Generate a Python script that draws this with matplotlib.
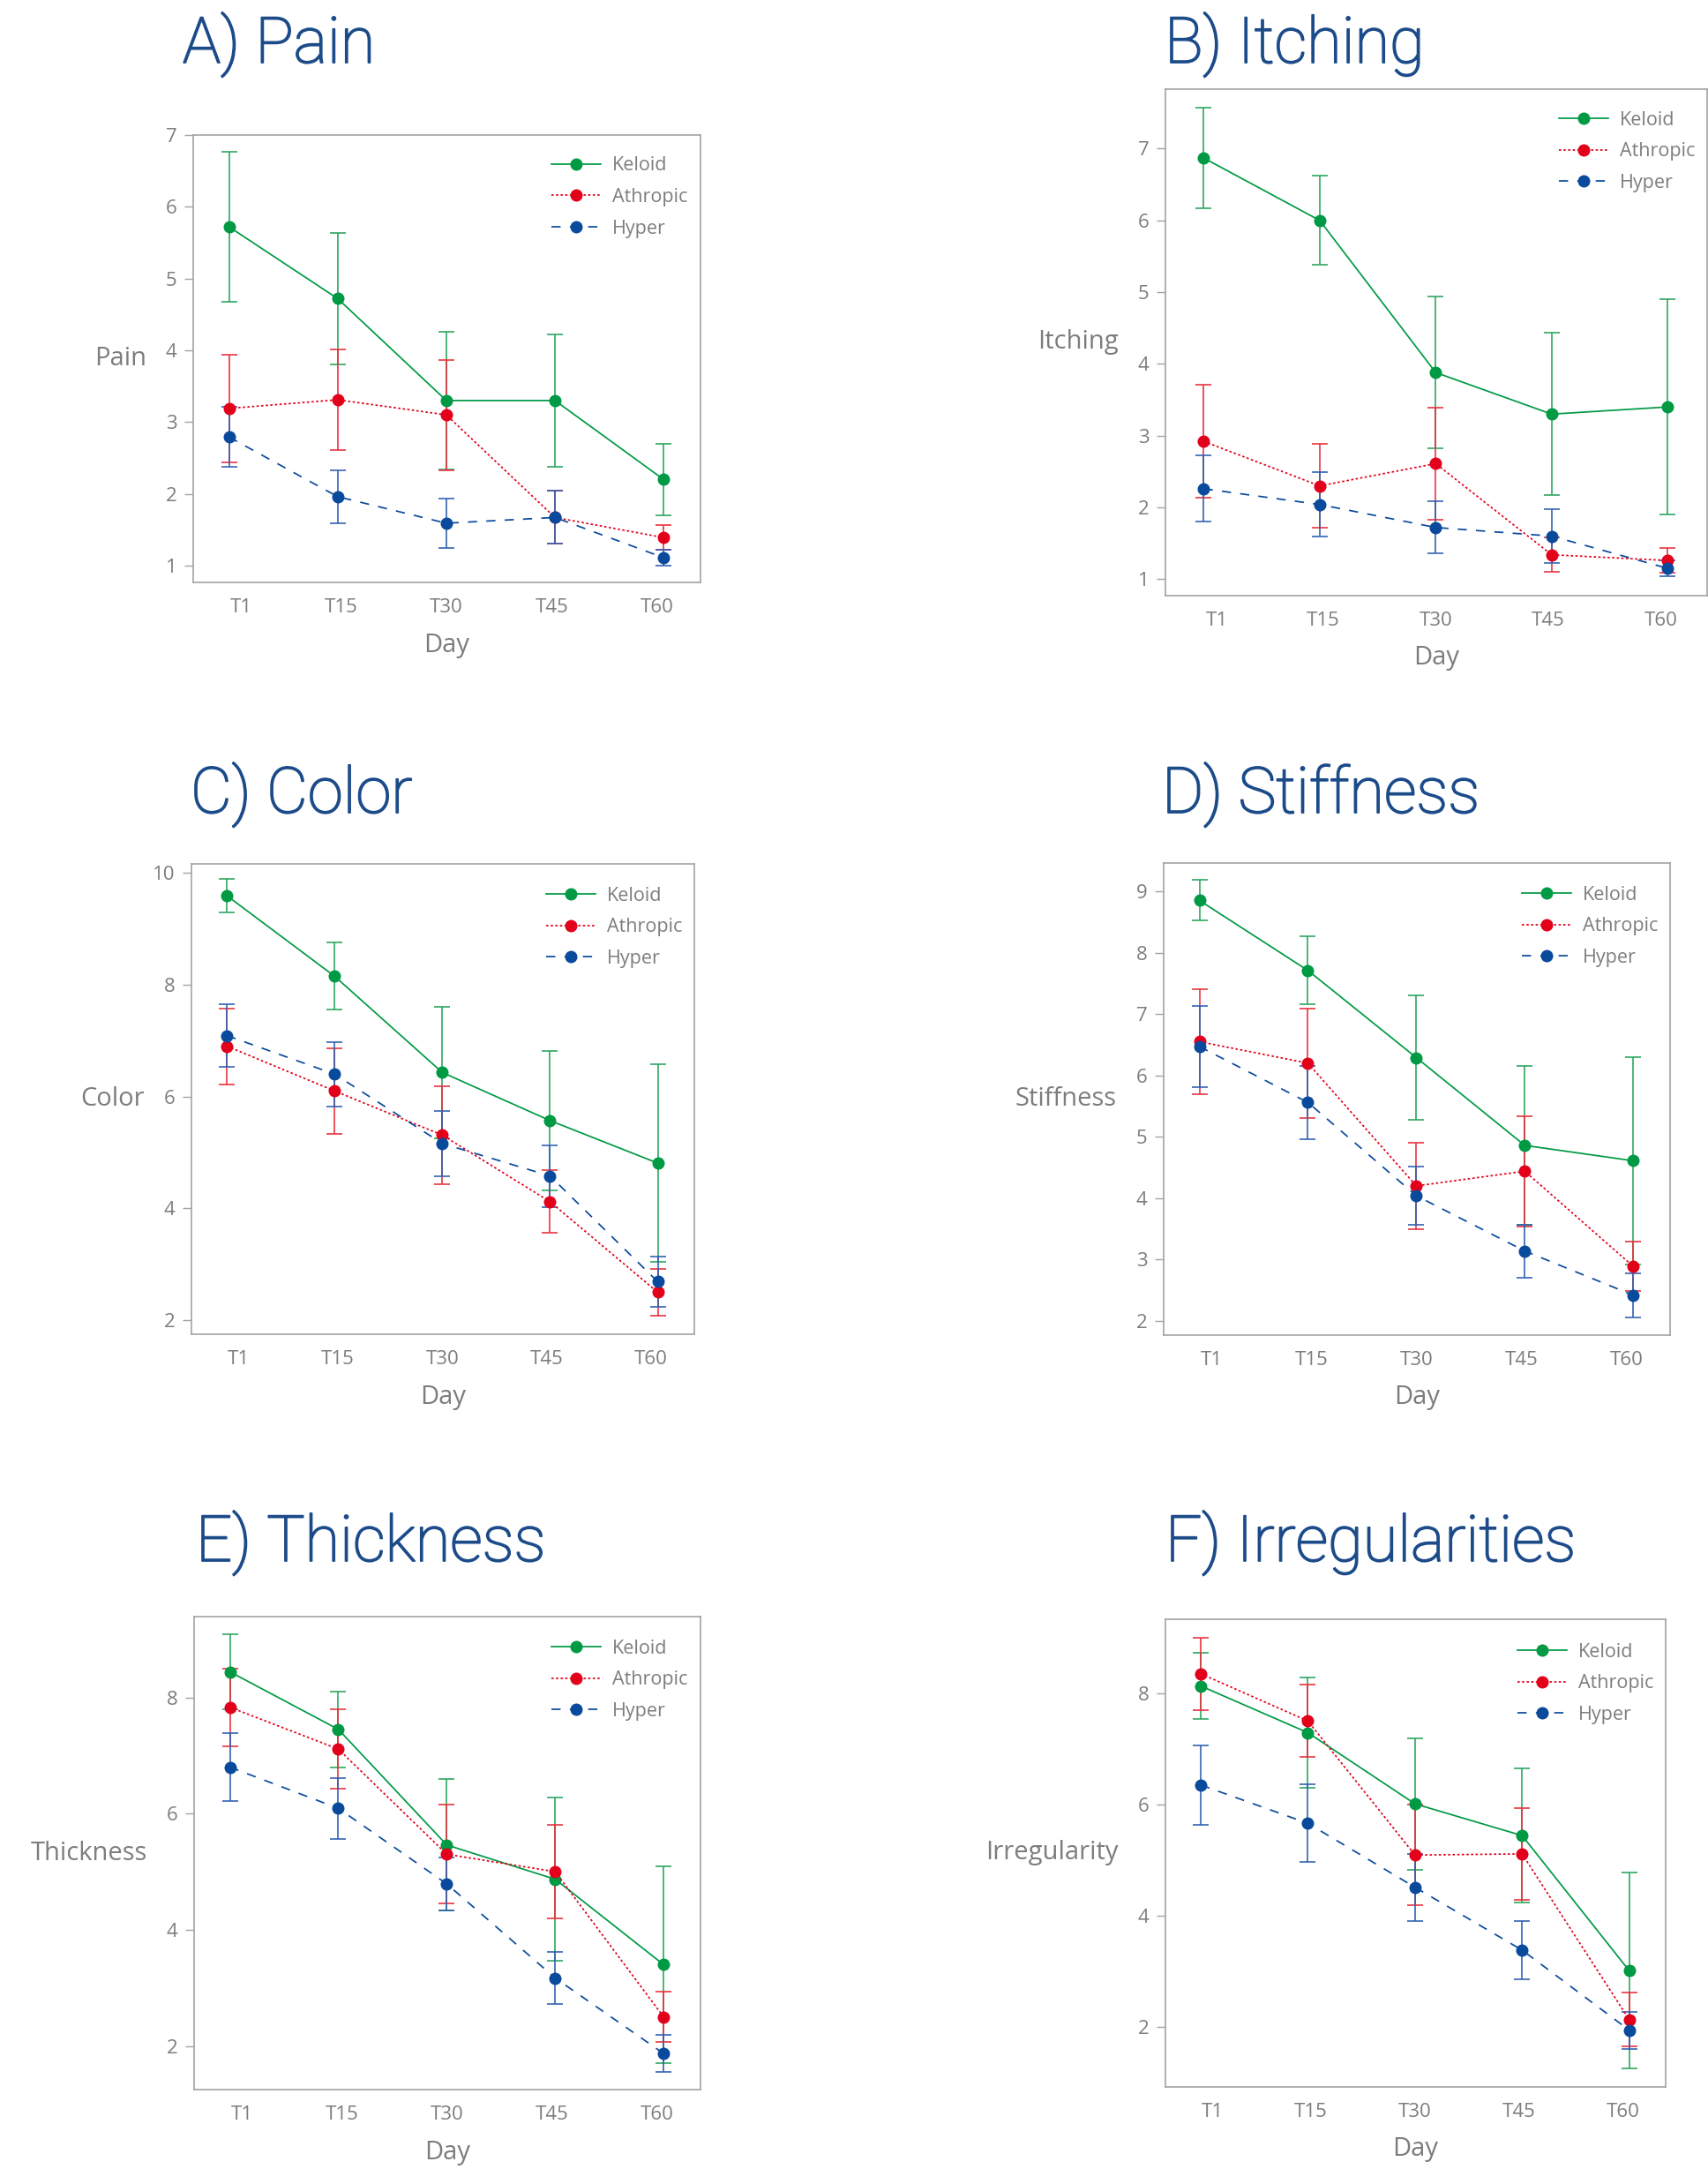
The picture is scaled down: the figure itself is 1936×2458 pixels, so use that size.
import matplotlib
matplotlib.use('Agg')
import matplotlib.pyplot as plt
import matplotlib.patheffects as pe

# ---------------- data ----------------
days = ['T1', 'T15', 'T30', 'T45', 'T60']
groups = ['Keloid', 'Athropic', 'Hyper']

pain_keloid = [5.72, 4.72, 3.30, 3.30, 2.20]
pain_keloid_sd = [1.05, 0.92, 0.96, 0.92, 0.50]
pain_athropic = [3.19, 3.31, 3.10, 1.67, 1.39]
pain_athropic_sd = [0.75, 0.70, 0.77, 0.37, 0.17]
pain_hyper = [2.79, 1.96, 1.59, 1.67, 1.11]
pain_hyper_sd = [0.42, 0.37, 0.34, 0.37, 0.11]

itching_keloid = [6.87, 6.00, 3.88, 3.30, 3.40]
itching_keloid_sd = [0.70, 0.62, 1.06, 1.13, 1.50]
itching_athropic = [2.92, 2.30, 2.61, 1.34, 1.26]
itching_athropic_sd = [0.79, 0.58, 0.78, 0.24, 0.17]
itching_hyper = [2.26, 2.04, 1.72, 1.60, 1.15]
itching_hyper_sd = [0.46, 0.45, 0.36, 0.37, 0.11]

color_keloid = [9.59, 8.15, 6.43, 5.57, 4.81]
color_keloid_sd = [0.30, 0.60, 1.18, 1.25, 1.77]
color_athropic = [6.90, 6.10, 5.31, 4.12, 2.50]
color_athropic_sd = [0.68, 0.77, 0.87, 0.56, 0.42]
color_hyper = [7.09, 6.40, 5.16, 4.58, 2.69]
color_hyper_sd = [0.56, 0.58, 0.58, 0.55, 0.45]

stiffness_keloid = [8.85, 7.71, 6.29, 4.86, 4.61]
stiffness_keloid_sd = [0.33, 0.55, 1.01, 1.30, 1.69]
stiffness_athropic = [6.55, 6.20, 4.20, 4.44, 2.89]
stiffness_athropic_sd = [0.86, 0.89, 0.71, 0.90, 0.40]
stiffness_hyper = [6.47, 5.56, 4.04, 3.14, 2.42]
stiffness_hyper_sd = [0.66, 0.60, 0.47, 0.43, 0.36]

thickness_keloid = [8.44, 7.45, 5.46, 4.87, 3.40]
thickness_keloid_sd = [0.64, 0.65, 1.13, 1.41, 1.69]
thickness_athropic = [7.83, 7.11, 5.30, 5.00, 2.50]
thickness_athropic_sd = [0.67, 0.68, 0.85, 0.81, 0.43]
thickness_hyper = [6.80, 6.09, 4.79, 3.17, 1.87]
thickness_hyper_sd = [0.58, 0.52, 0.46, 0.45, 0.32]

irreg_keloid = [8.13, 7.29, 6.01, 5.44, 3.01]
irreg_keloid_sd = [0.60, 0.99, 1.18, 1.21, 1.76]
irreg_athropic = [8.35, 7.50, 5.09, 5.11, 2.13]
irreg_athropic_sd = [0.65, 0.65, 0.90, 0.83, 0.48]
irreg_hyper = [6.35, 5.66, 4.51, 3.38, 1.94]
irreg_hyper_sd = [0.71, 0.70, 0.60, 0.53, 0.33]

titles = ['A) Pain', 'B) Itching', 'C) Color', 'D) Stiffness', 'E) Thickness', 'F) Irregularities']
ylabels = ['Pain', 'Itching', 'Color', 'Stiffness', 'Thickness', 'Irregularity']
yticks_list = [[1, 2, 3, 4, 5, 6, 7], [1, 2, 3, 4, 5, 6, 7], [2, 4, 6, 8, 10],
               [2, 3, 4, 5, 6, 7, 8, 9], [2, 4, 6, 8], [2, 4, 6, 8]]

# ---------------- style / layout ----------------
W, H, DPI = 1936, 2458, 100
TITLE_C = '#1c4b8a'
GRAY = '#7d7d7d'
SPINE = '#a3a3a3'
line_colors = ['#009a44', '#e3001b', '#0a4a9c']
err_colors = ['#2aa45e', '#e8303c', '#3060b0']
styles = ['-', (0, (1.5, 1.5)), (0, (6, 6))]
TITLE_FONT = ['Roboto', 'Liberation Sans', 'DejaVu Sans']
TEXT_FONT = ['Open Sans', 'DejaVu Sans']

# axes boxes in pixels: left, right, top, bottom
boxes = [(219, 794, 153, 660), (1321, 1935, 101, 675),
         (217, 787, 979, 1512), (1319, 1893, 978, 1513),
         (220, 794, 1832, 2368), (1321, 1888, 1835, 2365)]
title_pos = [(207, 71), (1320, 71), (216, 921), (1317, 921), (222, 1769), (1321, 1769)]
ylims = [(0.765, 7.0), (0.77, 7.83), (1.75, 10.16), (1.77, 9.46), (1.25, 9.39), (0.92, 9.33)]
legend_anchor = [(0.706, 0.952), (0.726, 0.957), (0.705, 0.952), (0.707, 0.952),
                 (0.706, 0.952), (0.704, 0.950)]
xlabel_pos = [0.11, 1.03, 2.0, 2.97, 3.94]

panel_data = [
    [(pain_keloid, pain_keloid_sd), (pain_athropic, pain_athropic_sd), (pain_hyper, pain_hyper_sd)],
    [(itching_keloid, itching_keloid_sd), (itching_athropic, itching_athropic_sd), (itching_hyper, itching_hyper_sd)],
    [(color_keloid, color_keloid_sd), (color_athropic, color_athropic_sd), (color_hyper, color_hyper_sd)],
    [(stiffness_keloid, stiffness_keloid_sd), (stiffness_athropic, stiffness_athropic_sd), (stiffness_hyper, stiffness_hyper_sd)],
    [(thickness_keloid, thickness_keloid_sd), (thickness_athropic, thickness_athropic_sd), (thickness_hyper, thickness_hyper_sd)],
    [(irreg_keloid, irreg_keloid_sd), (irreg_athropic, irreg_athropic_sd), (irreg_hyper, irreg_hyper_sd)],
]

fig = plt.figure(figsize=(W / DPI, H / DPI), dpi=DPI)
PX = 72.0 / DPI  # points per pixel

x = list(range(len(days)))

for i in range(6):
    l, r, t, b = boxes[i]
    ax = fig.add_axes([l / W, 1 - b / H, (r - l) / W, (b - t) / H])
    # error bars first
    for g in range(3):
        m, sd = panel_data[i][g]
        ax.errorbar(x, m, yerr=sd, fmt='none', ecolor=err_colors[g], elinewidth=1.3,
                    capsize=9 * PX, capthick=1.3, alpha=0.9, zorder=2)
    handles = []
    for g in range(3):
        m, sd = panel_data[i][g]
        ln, = ax.plot(x, m, linestyle=styles[g], color=line_colors[g], lw=1.25,
                      marker='o', markersize=14 * PX, markeredgewidth=0, zorder=3 + g,
                      label=groups[g])
        handles.append(ln)
    ax.set_xlim(-0.33, 4.34)
    ax.set_ylim(*ylims[i])
    ax.set_yticks(yticks_list[i])
    ax.set_xticks(xlabel_pos)
    ax.set_xticklabels(days)
    ax.tick_params(axis='x', length=0, pad=13, labelsize=16, labelcolor=GRAY)
    ax.tick_params(axis='y', length=10 * PX, width=1.0, color=SPINE, pad=6,
                   labelsize=16, labelcolor=GRAY)
    for lab in ax.get_xticklabels() + ax.get_yticklabels():
        lab.set_family(TEXT_FONT)
    for sp in ax.spines.values():
        sp.set_color(SPINE)
        sp.set_linewidth(1.2)
    # axis labels
    ax.annotate(ylabels[i], xy=(0, 0.5), xycoords='axes fraction',
                xytext=(-53 * PX, 0), textcoords='offset points',
                ha='right', va='center', fontsize=21, color=GRAY, family=TEXT_FONT)
    ax.annotate('Day', xy=(0.5, 0), xycoords='axes fraction',
                xytext=(0, -71 * PX), textcoords='offset points',
                ha='center', va='center', fontsize=21, color=GRAY, family=TEXT_FONT)
    leg = ax.legend(handles=handles, loc='upper left', bbox_to_anchor=legend_anchor[i],
                    frameon=False, handlelength=2.6, handletextpad=0.6,
                    labelspacing=0.68, borderpad=0, borderaxespad=0, numpoints=1,
                    prop={'family': TEXT_FONT, 'size': 15.5})
    for txt in leg.get_texts():
        txt.set_color(GRAY)
    # panel title
    tx, ty = title_pos[i]
    fig.text(tx / W, 1 - ty / H, titles[i], fontsize=52, color=TITLE_C,
             family=TITLE_FONT, weight='light', ha='left', va='baseline',
             path_effects=[pe.withStroke(linewidth=1.3, foreground=TITLE_C)])

fig.savefig('out.png', dpi=DPI, facecolor='white')
